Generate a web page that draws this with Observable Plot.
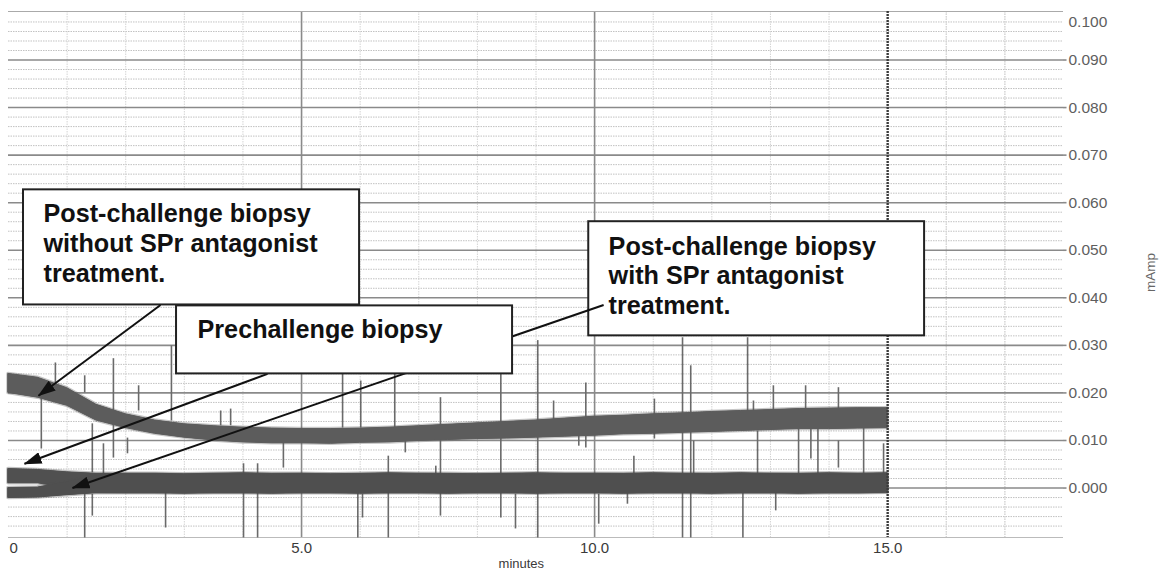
<!DOCTYPE html>
<html>
<head>
<meta charset="utf-8">
<script src="https://cdn.jsdelivr.net/npm/d3@7"></script>
<script src="https://cdn.jsdelivr.net/npm/@observablehq/plot@0.6"></script>
<style>
  html, body { margin: 0; padding: 0; background: #fff; }
  #chart { width: 1165px; height: 571px; }
</style>
</head>
<body>
<div id="chart"></div>
<script>
// ---------- data ----------
const times = [0,0.5,1,1.5,2,2.5,3,3.5,4,4.5,5,5.5,6,6.5,7,7.5,8,8.5,9,9.5,10,10.5,11,11.5,12,12.5,13,13.5,14,14.5,15];

// Post-challenge biopsy without SPr antagonist (band low / high, mAmp)
const aLo = [0.0200,0.0190,0.0173,0.0142,0.0126,0.0114,0.0106,0.0100,0.0096,0.0094,0.0094,0.0093,0.0095,0.0096,0.0099,0.0101,0.0103,0.0104,0.0106,0.0108,0.0110,0.0113,0.0114,0.0116,0.0118,0.0120,0.0122,0.0124,0.0124,0.0125,0.0126];
const aHi = [0.0240,0.0232,0.0210,0.0175,0.0155,0.0142,0.0134,0.0130,0.0127,0.0125,0.0124,0.0124,0.0125,0.0127,0.0130,0.0133,0.0136,0.0139,0.0142,0.0146,0.0150,0.0152,0.0155,0.0157,0.0160,0.0162,0.0164,0.0166,0.0167,0.0168,0.0168];

// Prechallenge biopsy
const bLo = [0.0010,0.0010,0.0000,-0.0009,-0.0010,-0.0010,-0.0009,-0.0010,-0.0010,-0.0009,-0.0010,-0.0010,-0.0009,-0.0010,-0.0010,-0.0009,-0.0010,-0.0010,-0.0009,-0.0010,-0.0010,-0.0009,-0.0010,-0.0010,-0.0009,-0.0010,-0.0010,-0.0009,-0.0010,-0.0010,-0.0009];
const bHi = [0.0040,0.0038,0.0033,0.0030,0.0030,0.0030,0.0029,0.0030,0.0031,0.0030,0.0030,0.0029,0.0030,0.0031,0.0030,0.0030,0.0029,0.0030,0.0031,0.0030,0.0030,0.0030,0.0031,0.0030,0.0030,0.0031,0.0030,0.0030,0.0031,0.0030,0.0031];

// Post-challenge biopsy with SPr antagonist
const cLo = [-0.0021,-0.0020,-0.0015,-0.0011,-0.0011,-0.0011,-0.0012,-0.0011,-0.0011,-0.0012,-0.0011,-0.0011,-0.0012,-0.0011,-0.0011,-0.0012,-0.0011,-0.0011,-0.0012,-0.0011,-0.0011,-0.0012,-0.0011,-0.0011,-0.0012,-0.0011,-0.0011,-0.0012,-0.0011,-0.0011,-0.0010];
const cHi = [0.0000,0.0001,0.0012,0.0026,0.0028,0.0028,0.0027,0.0028,0.0028,0.0027,0.0028,0.0028,0.0027,0.0028,0.0028,0.0027,0.0028,0.0028,0.0027,0.0028,0.0028,0.0027,0.0028,0.0028,0.0027,0.0028,0.0028,0.0027,0.0028,0.0028,0.0028];

// transient spikes: time (min), low, high (mAmp)
const spikeT  = [0.56,0.80,1.30,1.79,2.22,2.78,1.43,1.62,2.03,1.30,1.43,2.68,4.01,4.25,3.62,3.79,4.69,5.70,6.01,5.96,6.04,6.48,6.59,6.77,7.37,7.29,8.40,8.65,9.03,9.30,9.85,10.07,9.73,11.02,11.50,11.64,11.69,10.67,10.56,12.53,12.61,12.71,12.78,13.05,13.09,13.48,13.60,13.69,13.81,14.16,14.16,14.59,14.93];
const spikeLo = [0.0082,0.0215,0.0200,0.0063,0.0162,0.0141,0.0032,0.0029,0.0072,-0.0105,-0.0059,-0.0084,-0.0105,-0.0105,0.0131,0.0131,0.0042,0.0126,0.0126,-0.0105,-0.0063,-0.0105,0.0126,0.0074,-0.0059,0.0029,-0.0063,-0.0086,-0.0105,0.0126,0.0084,-0.0076,0.0088,0.0103,-0.0105,-0.0105,0.0015,0.0029,-0.0034,-0.0105,0.0156,0.0126,0.0021,0.0131,-0.0048,0.0029,0.0141,0.0061,0.0029,0.0141,0.0042,0.0029,0.0019];
const spikeHi = [0.0198,0.0263,0.0236,0.0272,0.0215,0.0299,0.0135,0.0093,0.0105,-0.0013,-0.0013,-0.0006,0.0051,0.0051,0.0162,0.0166,0.0099,0.0240,0.0225,-0.0011,-0.0013,0.0067,0.0240,0.0099,0.0190,0.0046,0.0240,-0.0013,0.0310,0.0183,0.0221,-0.0013,0.0126,0.0187,0.0316,0.0257,0.0099,0.0067,-0.0011,-0.0002,0.0316,0.0183,0.0120,0.0215,-0.0006,0.0126,0.0215,0.0126,0.0126,0.0211,0.0099,0.0126,0.0093];

// axes
const yTicks = [0.000,0.010,0.020,0.030,0.040,0.050,0.060,0.070,0.080,0.090,0.100];
const xTicks = [0,5,10,15];
const xTickLabels = ["0","5.0","10.0","15.0"];
const xDomain = [0, 18];
const yDomain = [-0.0104, 0.1002];

// annotations (text)
const box1Lines = ["Post-challenge biopsy","without SPr antagonist","treatment."];
const box2Lines = ["Prechallenge biopsy"];
const box3Lines = ["Post-challenge biopsy","with SPr antagonist","treatment."];

// ---------- build tables ----------
const traceA = times.map((t,i) => ({t, lo: aLo[i], hi: aHi[i]}));
const traceB = times.map((t,i) => ({t, lo: bLo[i], hi: bHi[i]}));
const traceC = times.map((t,i) => ({t, lo: cLo[i], hi: cHi[i]}));
const spikes = spikeT.map((t,i) => ({t, lo: spikeLo[i], hi: spikeHi[i]}));

const minorY = d3.range(-10, 101, 2).filter(d => d % 10 !== 0).map(d => d / 1000);
const minorX = d3.range(1, 18).filter(d => d % 5 !== 0);

// annotation placement (data units)
const boxes1 = [{x1: 0.256, x2: 5.99, y1: 0.0385, y2: 0.0627}];
const boxes3 = [{x1: 9.90, x2: 15.63, y1: 0.0320, y2: 0.0560}];
const boxes2 = [{x1: 2.867, x2: 8.60, y1: 0.0240, y2: 0.0383}];
const text1 = box1Lines.map((s,i) => ({s, x: 0.597, y: [0.0560, 0.0497, 0.0434][i]}));
const text2 = box2Lines.map((s,i) => ({s, x: 3.225, y: 0.0316}));
const text3 = box3Lines.map((s,i) => ({s, x: 10.239, y: [0.0490, 0.0428, 0.0366][i]}));
const arrows = [
  {x1: 2.594, y1: 0.0385, x2: 0.512, y2: 0.0194},
  {x1: 4.42,  y1: 0.0240, x2: 0.273, y2: 0.0051},
  {x1: 10.154,y1: 0.0385, x2: 1.092, y2: 0.0000}
];

const fmt = d3.format(".3f");
const FONT = "'Liberation Sans', Arial, Helvetica, sans-serif";

const band = (data, color) => [
  Plot.areaY(data, {x: "t", y1: "lo", y2: "hi", fill: color, stroke: color, strokeWidth: 3.5, strokeOpacity: 0.35}),
  Plot.areaY(data, {x: "t", y1: "lo", y2: "hi", fill: color, stroke: color, strokeWidth: 1})
];

const plot = Plot.plot({
  width: 1165,
  height: 571,
  marginLeft: 8,
  marginRight: 102,
  marginTop: 11,
  marginBottom: 34,
  style: {fontFamily: FONT, background: "#fff", overflow: "visible"},
  x: {domain: xDomain, axis: null},
  y: {domain: yDomain, axis: null},
  marks: [
    // grid
    Plot.ruleY(minorY, {stroke: "#c2c2c2", strokeWidth: 1, strokeDasharray: "1.5,1"}),
    Plot.ruleX(minorX, {stroke: "#d4d4d4", strokeWidth: 1, strokeDasharray: "1.5,1"}),
    Plot.ruleX([16, 17], {stroke: "#d4d4d4", strokeWidth: 1, strokeDasharray: "1.5,1"}),
    Plot.ruleY(yTicks.filter(d => d < 0.1), {stroke: "#8a8a8a", strokeWidth: 1.6}),
    Plot.ruleY(yTicks.filter(d => d < 0.1), {x1: xDomain[1], x2: xDomain[1] + 0.06, stroke: "#8a8a8a", strokeWidth: 1.6}),
    Plot.ruleX([5, 10], {stroke: "#8a8a8a", strokeWidth: 1.6}),
    Plot.ruleY([yDomain[1]], {stroke: "#aaaaaa", strokeWidth: 1}),
    Plot.ruleY([yDomain[0]], {stroke: "#bbbbbb", strokeWidth: 1}),
    // signals
    Plot.ruleX(spikes, {x: "t", y1: "lo", y2: "hi", stroke: "#6a6a6a", strokeWidth: 1.6}),
    ...band(traceA, "#5c5c5c"),
    ...band(traceB, "#505050"),
    ...band(traceC, "#4f4f4f"),
    Plot.ruleX([15], {stroke: "#3a3a3a", strokeWidth: 2.4, strokeDasharray: "2,1"}),
    // y tick labels (right)
    Plot.text(yTicks.filter(d => d < 0.1), {x: xDomain[1], y: d => d, text: d => fmt(d), textAnchor: "start", dx: 5, fontSize: 15.5, fill: "#5e5e5e"}),
    Plot.text(yTicks.filter(d => d >= 0.1), {x: xDomain[1], y: d => d, text: d => fmt(d), textAnchor: "start", dx: 5, dy: 10, fontSize: 15.5, fill: "#5e5e5e"}),
    Plot.text(["mAmp"], {x: 19.49, y: 0.0453, text: d => d, rotate: -90, fontSize: 13.5, fill: "#666"}),
    // x tick labels
    Plot.text(xTicks.slice(0,1), {x: d => d, y: yDomain[0], text: (d,i) => xTickLabels[0], textAnchor: "start", dx: 1, dy: 11, fontSize: 15, fill: "#3a3a3a"}),
    Plot.text(xTicks.slice(1), {x: d => d, y: yDomain[0], text: (d,i) => xTickLabels[i+1], dy: 11, fontSize: 15, fill: "#3a3a3a"}),
    Plot.text(["minutes"], {x: 8.75, y: yDomain[0], text: d => d, dy: 26, fontSize: 13, fill: "#3a3a3a"}),
    // annotations
    Plot.rect(boxes1, {x1: "x1", x2: "x2", y1: "y1", y2: "y2", fill: "white", stroke: "#222", strokeWidth: 2}),
    Plot.text(text1, {x: "x", y: "y", text: "s", textAnchor: "start", lineAnchor: "bottom", fontSize: 25.2, fontWeight: "bold", fill: "#111"}),
    Plot.rect(boxes3, {x1: "x1", x2: "x2", y1: "y1", y2: "y2", fill: "white", stroke: "#222", strokeWidth: 2}),
    Plot.text(text3, {x: "x", y: "y", text: "s", textAnchor: "start", lineAnchor: "bottom", fontSize: 25.2, fontWeight: "bold", fill: "#111"}),
    Plot.link(arrows, {x1: "x1", y1: "y1", x2: "x2", y2: "y2", stroke: "#111", strokeWidth: 2}),
    Plot.rect(boxes2, {x1: "x1", x2: "x2", y1: "y1", y2: "y2", fill: "white", stroke: "#222", strokeWidth: 2}),
    Plot.text(text2, {x: "x", y: "y", text: "s", textAnchor: "start", lineAnchor: "bottom", fontSize: 25.2, fontWeight: "bold", fill: "#111"})
  ]
});

// filled arrowheads on the annotation links
const svgEl = plot.tagName.toLowerCase() === "svg" ? plot : plot.querySelector("svg");
const svg = d3.select(svgEl);
const defs = svg.insert("defs", ":first-child");
defs.append("marker")
  .attr("id", "ahead")
  .attr("viewBox", "0 0 18 12")
  .attr("refX", 17).attr("refY", 6)
  .attr("markerWidth", 18).attr("markerHeight", 12)
  .attr("markerUnits", "userSpaceOnUse")
  .attr("orient", "auto")
  .append("path").attr("d", "M0,0L18,6L0,12Z").attr("fill", "#111");
svg.selectAll("g").filter(function() {
  const a = this.getAttribute("aria-label");
  return a && a.indexOf("link") >= 0;
}).selectAll("path, line").attr("marker-end", "url(#ahead)");

document.getElementById("chart").appendChild(plot);
</script>
</body>
</html>
